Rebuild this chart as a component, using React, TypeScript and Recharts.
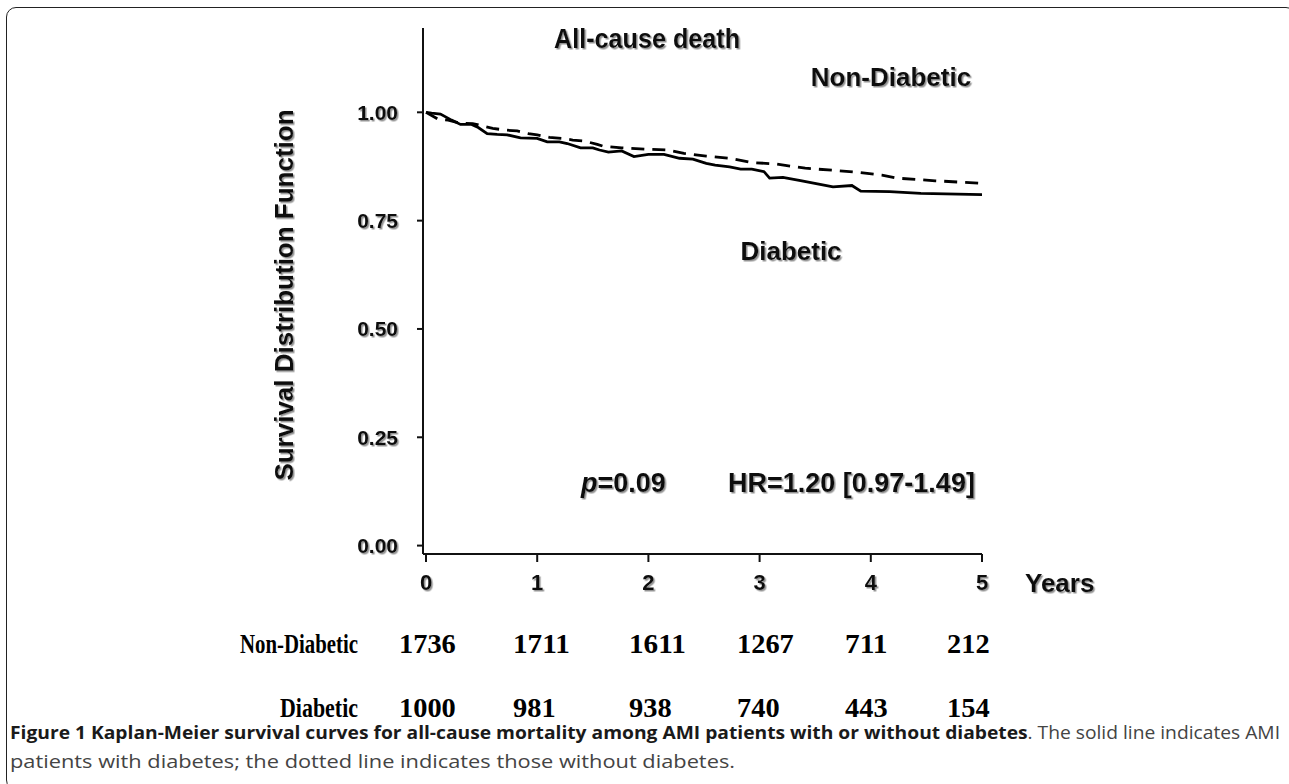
import React from 'react';
import { LineChart, Line, XAxis, YAxis } from 'recharts';

// Kaplan-Meier curves
const diabeticT = [0, 0.05, 0.13, 0.23, 0.31, 0.41, 0.47, 0.55, 0.64, 0.73, 0.85, 1.0, 1.09, 1.2, 1.27, 1.39, 1.5, 1.56, 1.64, 1.76, 1.87, 2.0, 2.14, 2.28, 2.4, 2.52, 2.6, 2.73, 2.83, 2.93, 3.04, 3.09, 3.21, 3.38, 3.52, 3.66, 3.83, 3.91, 4.17, 4.45, 5.0];
const diabeticS = [1.0, 0.998, 0.996, 0.982, 0.972, 0.972, 0.965, 0.951, 0.949, 0.948, 0.941, 0.94, 0.932, 0.932, 0.928, 0.918, 0.918, 0.913, 0.908, 0.911, 0.898, 0.903, 0.903, 0.894, 0.892, 0.882, 0.878, 0.874, 0.869, 0.869, 0.863, 0.848, 0.85, 0.842, 0.835, 0.828, 0.831, 0.818, 0.817, 0.813, 0.81];
const nonDiabeticT = [0, 0.11, 0.2, 0.3, 0.42, 0.6, 0.71, 0.82, 0.92, 1.0, 1.11, 1.22, 1.32, 1.42, 1.54, 1.59, 1.76, 1.97, 2.18, 2.32, 2.52, 2.73, 2.93, 3.14, 3.41, 3.72, 3.9, 4.1, 4.24, 4.58, 5.0];
const nonDiabeticS = [1.0, 0.984, 0.982, 0.975, 0.974, 0.963, 0.959, 0.957, 0.951, 0.948, 0.942, 0.94, 0.936, 0.934, 0.926, 0.922, 0.918, 0.915, 0.913, 0.905, 0.899, 0.894, 0.884, 0.881, 0.871, 0.865, 0.861, 0.855, 0.848, 0.842, 0.836];

const xTicks = [0, 1, 2, 3, 4, 5];
const yTicks = [0, 0.25, 0.5, 0.75, 1.0];

const riskYears = [0, 1, 2, 3, 4, 5];
const riskNonDiabetic = [1736, 1711, 1611, 1267, 711, 212];
const riskDiabetic = [1000, 981, 938, 740, 443, 154];

const diabeticData = diabeticT.map((t, i) => ({ t, s: diabeticS[i] }));
const nonDiabeticData = nonDiabeticT.map((t, i) => ({ t, s: nonDiabeticS[i] }));

// layout
const riskColX = [399, 513, 629, 737, 845, 947];
const DIGIT_W = 14.2;
const SANS = '"Liberation Sans", Arial, sans-serif';
const SERIF = '"Liberation Serif", "Times New Roman", serif';
const CAP = '"Open Sans", sans-serif';

const YTick = (props: any) => {
  const { x, y, payload } = props;
  return (
    <text x={x} y={y} dy="0.355em" textAnchor="end" fontFamily={SANS} fontSize={21} fontWeight="bold" fill="#111" filter="url(#shadow)">
      {Number(payload.value).toFixed(2)}
    </text>
  );
};

const XTick = (props: any) => {
  const { x, y, payload } = props;
  return (
    <text x={x} y={y} dy="0.71em" textAnchor="middle" fontFamily={SANS} fontSize={22} fontWeight="bold" fill="#111" filter="url(#shadow)">
      {payload.value}
    </text>
  );
};

export default function App() {
  return (
    <div style={{ position: 'absolute', left: 0, top: 0, width: 1289, height: 784, overflow: 'hidden', background: '#fff' }}>
      <div style={{ position: 'absolute', left: 6, top: 7, width: 1290, height: 783, border: '1.5px solid #222', borderRadius: 10, boxSizing: 'border-box' }} />
      <svg width={0} height={0} style={{ position: 'absolute' }}>
        <defs>
          <filter id="shadow" x="-10%" y="-10%" width="130%" height="140%">
            <feDropShadow dx="1.5" dy="1.5" stdDeviation="0.7" floodColor="#777" floodOpacity="0.8" />
          </filter>
        </defs>
      </svg>
      <div style={{ position: 'absolute', left: 0, top: 0 }}>
        <LineChart width={1289} height={784} margin={{ top: 28, right: 307, bottom: 0, left: 0 }}>
          <XAxis
            type="number"
            dataKey="t"
            domain={[-0.027, 5]}
            ticks={xTicks}
            allowDataOverflow
            height={230}
            tickSize={8}
            tickMargin={12}
            stroke="#111"
            strokeWidth={2}
            tick={<XTick />}
          />
          <YAxis
            type="number"
            dataKey="s"
            domain={[-0.0194, 1.1946]}
            ticks={yTicks}
            allowDataOverflow
            width={423}
            tickSize={6}
            tickMargin={19}
            stroke="#111"
            strokeWidth={2}
            tick={<YTick />}
          />
          <Line data={nonDiabeticData} dataKey="s" type="linear" stroke="#000" strokeWidth={2.8} strokeDasharray="13 8" dot={false} isAnimationActive={false} />
          <Line data={diabeticData} dataKey="s" type="linear" stroke="#000" strokeWidth={2.8} dot={false} isAnimationActive={false} />
        </LineChart>
      </div>
      <svg width={1289} height={784} style={{ position: 'absolute', left: 0, top: 0 }}>
        <g fontFamily={SANS} fontWeight="bold" fill="#111" filter="url(#shadow)">
          <text x={554} y={48} fontSize={27} textLength={186} lengthAdjust="spacingAndGlyphs">All-cause death</text>
          <text x={891} y={86} fontSize={26} textAnchor="middle">Non-Diabetic</text>
          <text x={791} y={260} fontSize={26} textAnchor="middle">Diabetic</text>
          <text x={1025} y={592} fontSize={26}>Years</text>
          <text x={293} y={295} fontSize={26} textAnchor="middle" transform="rotate(-90 293 295)">Survival Distribution Function</text>
          <text x={581} y={492} fontSize={27}><tspan fontStyle="italic">p</tspan>=0.09</text>
          <text x={728} y={492} fontSize={27}>HR=1.20 [0.97-1.49]</text>
        </g>
        <g fontFamily={SERIF} fontWeight="bold" fill="#000" fontSize={28}>
          <text x={240} y={653} textLength={118} lengthAdjust="spacingAndGlyphs">Non-Diabetic</text>
          <text x={280} y={717} textLength={78} lengthAdjust="spacingAndGlyphs">Diabetic</text>
          {riskYears.map((yr, i) => (
            <text key={'n' + yr} x={riskColX[i]} y={653} textLength={String(riskNonDiabetic[i]).length * DIGIT_W} lengthAdjust="spacingAndGlyphs">{riskNonDiabetic[i]}</text>
          ))}
          {riskYears.map((yr, i) => (
            <text key={'d' + yr} x={riskColX[i]} y={717} textLength={String(riskDiabetic[i]).length * DIGIT_W} lengthAdjust="spacingAndGlyphs">{riskDiabetic[i]}</text>
          ))}
        </g>
        <text x={10} y={739} fontFamily={CAP} fontSize={18} textLength={1270} lengthAdjust="spacingAndGlyphs">
          <tspan fontWeight="bold" fill="#1a1a1a">Figure 1 Kaplan-Meier survival curves for all-cause mortality among AMI patients with or without diabetes</tspan>
          <tspan fill="#444">. The solid line indicates AMI</tspan>
        </text>
        <text x={10} y={768} fontFamily={CAP} fontSize={18} fill="#444" textLength={725} lengthAdjust="spacingAndGlyphs">
          patients with diabetes; the dotted line indicates those without diabetes.
        </text>
      </svg>
    </div>
  );
}
